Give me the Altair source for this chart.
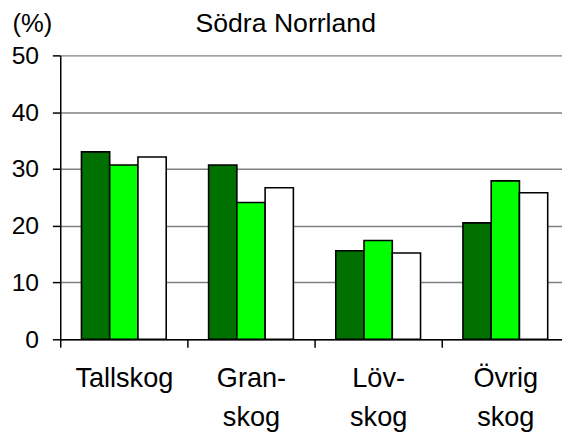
import altair as alt
import pandas as pd

categories = ["Tallskog", "Gran-\nskog", "Löv-\nskog", "Övrig\nskog"]
series = ["Serie 1", "Serie 2", "Serie 3"]
serie1 = [33.0, 30.7, 15.6, 20.5]
serie2 = [30.7, 24.1, 17.4, 27.9]
serie3 = [32.1, 26.7, 15.2, 25.8]
colors = ["#007000", "#00ff00", "#ffffff"]
y_ticks = [0, 10, 20, 30, 40, 50]

rows = []
for s, vals in zip(series, [serie1, serie2, serie3]):
    for c, v in zip(categories, vals):
        rows.append({"kategori": c, "serie": s, "andel": v})
df = pd.DataFrame(rows)

font = "Liberation Sans"

chart = alt.Chart(df).mark_bar(stroke="black", strokeWidth=1.6).encode(
    x=alt.X(
        "kategori:N",
        sort=categories,
        scale=alt.Scale(range=[0, 516], paddingInner=0, paddingOuter=0),
        axis=alt.Axis(
            title=None,
            labelAngle=0,
            tickBand="extent",
            grid=False,
            labelFontSize=27.5,
            labelPadding=18,
            labelLineHeight=39,
            labelExpr="split(datum.label, '\\n')",
        ),
    ),
    xOffset=alt.XOffset(
        "serie:N", sort=series, scale=alt.Scale(paddingInner=0, paddingOuter=0.75)
    ),
    y=alt.Y(
        "andel:Q",
        scale=alt.Scale(domain=[0, 50]),
        axis=alt.Axis(
            values=y_ticks,
            title="(%)",
            titleAngle=0,
            titleX=-49,
            titleY=-24,
            titleAlign="left",
            titleBaseline="alphabetic",
            titleFontSize=26,
            titleFontWeight="normal",
            labelFontSize=25,
            labelPadding=14,
            grid=True,
            gridColor="#808080",
            gridWidth=1.5,
        ),
    ),
    color=alt.Color("serie:N", scale=alt.Scale(domain=series, range=colors), legend=None),
).properties(
    width=509,
    height=288,
    autosize=alt.AutoSizeParams(type="none"),
    padding={"left": 53, "top": 45, "right": 0, "bottom": 92},
    title=alt.TitleParams(
        "Södra Norrland",
        anchor="start",
        dx=187,
        offset=0,
        dy=48.5,
        baseline="alphabetic",
        fontSize=27,
        fontWeight="normal",
        font=font,
        color="black",
    ),
).configure_view(stroke=None).configure_axis(
    labelFont=font,
    titleFont=font,
    labelColor="black",
    titleColor="black",
    domainColor="black",
    domainWidth=1.5,
    tickColor="black",
    tickWidth=1.5,
    tickSize=8,
)

chart.save("out.html", embed_options={"renderer": "svg", "actions": False})
